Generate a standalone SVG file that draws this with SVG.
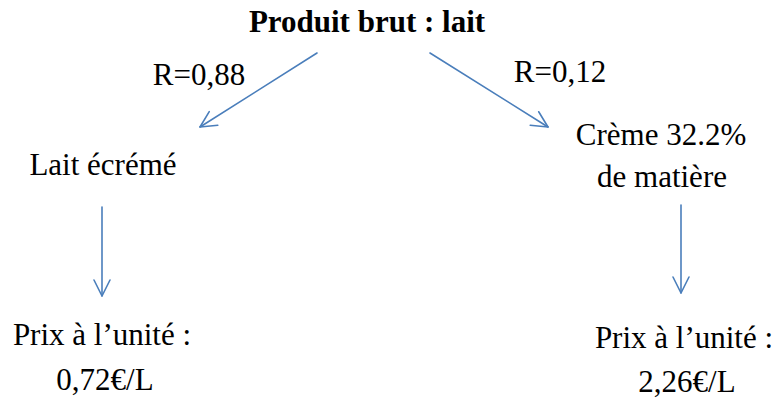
<svg xmlns="http://www.w3.org/2000/svg" width="780" height="399" viewBox="0 0 780 399">
<style>
text{font-family:"Liberation Serif","Times New Roman",serif;font-size:31px;fill:#000;text-anchor:middle}
.b{font-weight:bold}
.c{stroke:#4A7EBB;stroke-width:1.6;fill:none;stroke-linecap:round;stroke-linejoin:round}
</style>
<defs>
<marker id="ah" viewBox="0 0 20 20" refX="18" refY="10" markerWidth="20" markerHeight="20" markerUnits="userSpaceOnUse" orient="auto">
<path d="M2,2 L18,10 L2,18" fill="none" stroke="#4A7EBB" stroke-width="1.6" stroke-linecap="round" stroke-linejoin="round"/>
</marker>
</defs>
<rect width="780" height="399" fill="#fff"/>
<g id="connectors" class="c">
<line x1="317" y1="53" x2="200" y2="127" marker-end="url(#ah)"/>
<line x1="430" y1="53" x2="548" y2="127" marker-end="url(#ah)"/>
<line x1="102" y1="207" x2="102" y2="296" marker-end="url(#ah)"/>
<line x1="681" y1="205" x2="681" y2="293" marker-end="url(#ah)"/>
</g>
<g id="root"><text class="b" x="367" y="32">Produit brut : lait</text></g>
<g id="label-r088"><text x="199" y="85">R=0,88</text></g>
<g id="label-r012"><text x="560" y="82">R=0,12</text></g>
<g id="lait-ecreme"><text x="103" y="175">Lait écrémé</text></g>
<g id="creme"><text x="661" y="145">Crème 32.2%</text><text x="662" y="187">de matière</text></g>
<g id="prix-gauche"><text x="102" y="345">Prix à l’unité :</text><text x="105" y="390">0,72€/L</text></g>
<g id="prix-droite"><text x="684" y="348">Prix à l’unité :</text><text x="687" y="392">2,26€/L</text></g>
</svg>
